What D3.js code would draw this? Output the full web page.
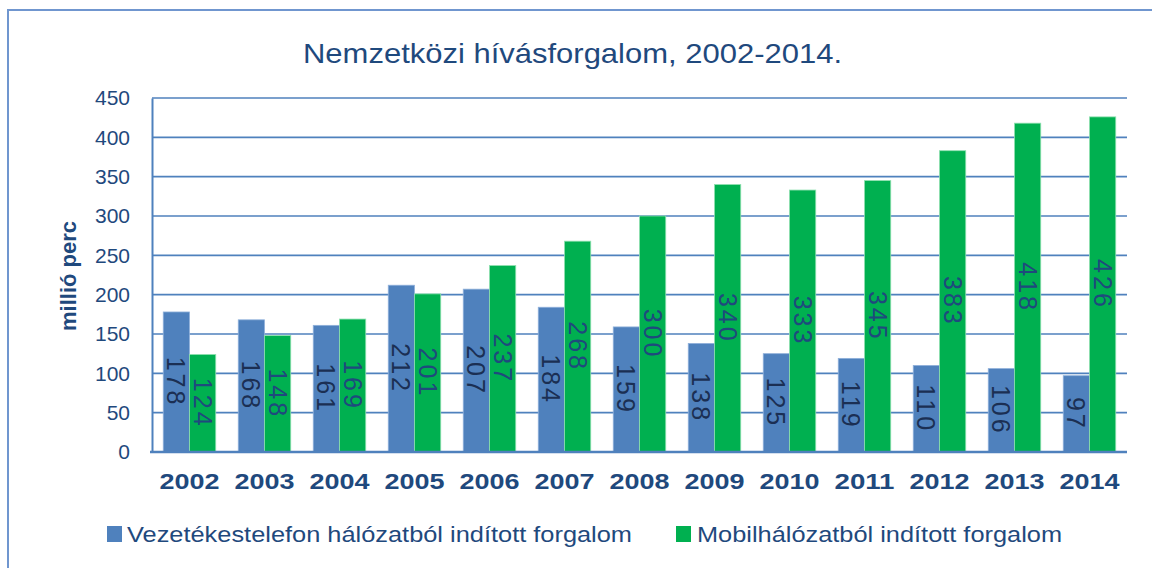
<!DOCTYPE html>
<html><head><meta charset="utf-8">
<script src="https://cdn.jsdelivr.net/npm/d3@7"></script>
<style>body{margin:0;background:#fff}svg{display:block}</style>
</head><body>
<svg id="c" width="1152" height="568"></svg>
<script>
const years = ["2002","2003","2004","2005","2006","2007","2008","2009","2010","2011","2012","2013","2014"];
const fixedLine = [178,168,161,212,207,184,159,138,125,119,110,106,97];
const mobile = [124,148,169,201,237,268,300,340,333,345,383,418,426];
const yTicks = [0,50,100,150,200,250,300,350,400,450];
const seriesNames = ["Vezetékestelefon hálózatból indított forgalom","Mobilhálózatból indított forgalom"];
const title = "Nemzetközi hívásforgalom, 2002-2014.";
const yTitle = "millió perc";

const svg = d3.select("#c");
const font = "'Liberation Sans', Arial, sans-serif";
const navy = "#1F497D";
const blue = "#4F81BD", green = "#00B050";
const m = {l:152, r:1127, t:98, b:452};

svg.append("rect").attr("x",8).attr("y",10).attr("width",1300).attr("height",700)
  .attr("fill","none").attr("stroke","#7096CF").attr("stroke-width",2);

const x = d3.scaleBand().domain(years).range([m.l,m.r]).paddingInner(0.3).paddingOuter(0.15);
const x1 = d3.scaleBand().domain([0,1]).range([0,x.bandwidth()]);
const y = d3.scaleLinear().domain([0,450]).range([m.b,m.t]);

// gridlines
svg.append("g").selectAll("line").data(yTicks.filter(d=>d>0)).join("line")
  .attr("x1",m.l).attr("x2",m.r).attr("y1",d=>y(d)).attr("y2",d=>y(d))
  .attr("stroke",blue).attr("stroke-width",1.6);

// y axis
const ya = svg.append("g").attr("transform",`translate(${m.l},0)`)
  .call(d3.axisLeft(y).tickValues(yTicks).tickSize(0).tickPadding(22));
ya.select(".domain").attr("stroke",blue).attr("stroke-width",2);
ya.selectAll("text").attr("font-family",font).attr("font-size",21).attr("fill",navy);

// bars
const data = years.map((yr,i)=>({yr, vals:[fixedLine[i],mobile[i]]}));
const g = svg.append("g").selectAll("g").data(data).join("g")
  .attr("transform",d=>`translate(${x(d.yr)},0)`);
g.selectAll("rect").data(d=>d.vals.map((v,k)=>({v,k}))).join("rect")
  .attr("x",d=>x1(d.k)).attr("width",x1.bandwidth())
  .attr("y",d=>y(d.v)).attr("height",d=>y(0)-y(d.v))
  .attr("fill",d=>d.k===0?blue:green)
  .attr("stroke",d=>d.k===0?"#8FB0DA":"#8FE0B0").attr("stroke-width",0.8);
g.selectAll("text").data(d=>d.vals.map((v,k)=>({v,k}))).join("text")
  .attr("transform",d=>`translate(${x1(d.k)+x1.bandwidth()/2},${(y(d.v)+y(0))/2}) rotate(90)`)
  .attr("text-anchor","middle").attr("dy","0.36em")
  .attr("font-family",font).attr("font-size",25).attr("letter-spacing",3)
  .attr("fill",d=>d.k===0?"#1B2F53":"#1F497D")
  .text(d=>d.v);

// x axis
const xa = svg.append("g").attr("transform",`translate(0,${m.b})`)
  .call(d3.axisBottom(x).tickSize(0).tickPadding(21));
xa.select(".domain").remove();
svg.append("line").attr("x1",m.l-2).attr("x2",m.r).attr("y1",m.b).attr("y2",m.b)
  .attr("stroke",blue).attr("stroke-width",2.4);
xa.selectAll("text").attr("font-family",font).attr("font-size",22).attr("font-weight","bold")
  .attr("fill",navy).attr("textLength",60).attr("lengthAdjust","spacingAndGlyphs");

// title
svg.append("text").attr("x",303).attr("y",63).attr("font-family",font).attr("font-size",28)
  .attr("fill",navy).attr("textLength",539).attr("lengthAdjust","spacingAndGlyphs").text(title);

// y title
svg.append("text").attr("transform","translate(76,276) rotate(-90)").attr("text-anchor","middle")
  .attr("font-family",font).attr("font-size",22).attr("font-weight","bold").attr("fill",navy).text(yTitle);

// legend
const leg = [{x:107,tx:127,w:505,c:blue},{x:676,tx:697,w:365,c:green}];
leg.forEach((l,i)=>{
  svg.append("rect").attr("x",l.x).attr("y",526).attr("width",15).attr("height",16).attr("fill",l.c);
  svg.append("text").attr("x",l.tx).attr("y",542).attr("font-family",font).attr("font-size",22)
    .attr("fill",navy).attr("textLength",l.w).attr("lengthAdjust","spacingAndGlyphs").text(seriesNames[i]);
});
</script>
</body></html>
